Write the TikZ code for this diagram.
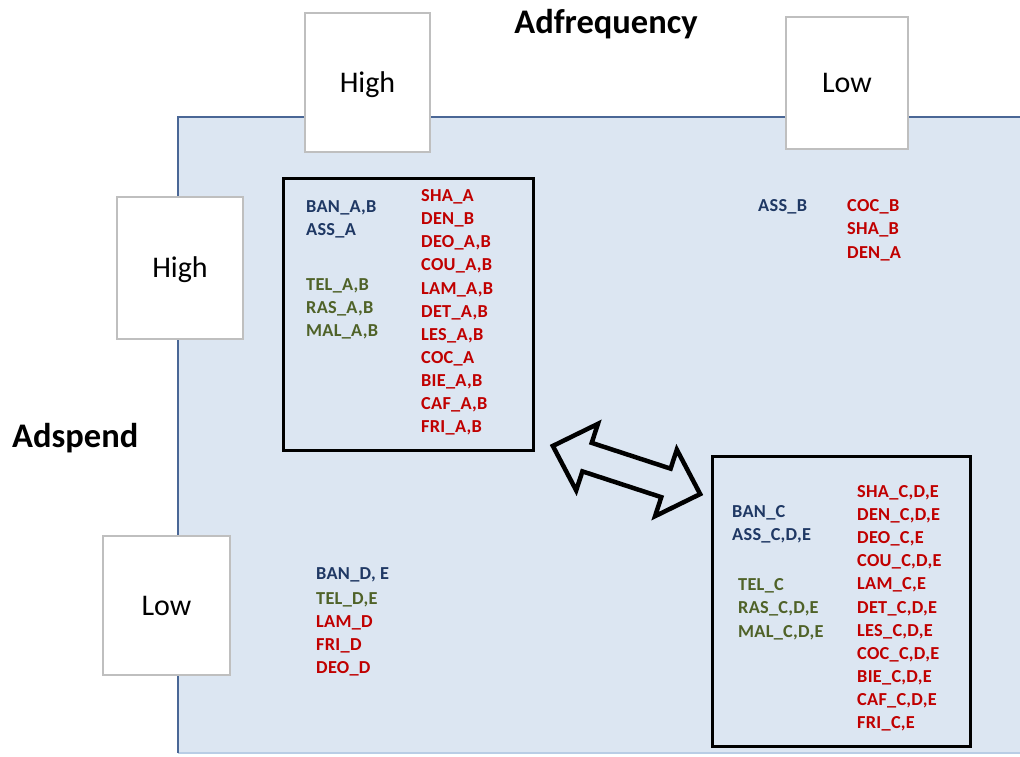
\documentclass[tikz,border=0pt]{standalone}
\usepackage{fontspec}
\setmainfont{Carlito}
\newfontfamily\listfont{Carlito}[LetterSpace=1.5]
\definecolor{panelfill}{HTML}{DCE6F2}
\definecolor{panelline}{HTML}{4A6796}
\definecolor{panelbottom}{HTML}{B9CDE5}
\definecolor{labelline}{HTML}{BFBFBF}
\definecolor{txtblue}{HTML}{1F3864}
\definecolor{txtgreen}{HTML}{4F6228}
\definecolor{txtred}{HTML}{C00000}

\begin{document}
\begin{tikzpicture}[x=1pt,y=-1pt,
  item/.style={anchor=base west, inner sep=0pt,
    font=\listfont\fontsize{18.3}{22}\selectfont\bfseries},
  blueitem/.style={item, text=txtblue},
  greenitem/.style={item, text=txtgreen},
  reditem/.style={item, text=txtred},
  levelbox/.style={draw=labelline, line width=1.2pt, fill=white,
    font=\fontsize{30}{35}\selectfont, text height=19.3pt, text depth=0pt,
    inner sep=0pt},
  axistitle/.style={inner sep=0pt, font=\fontsize{34.5}{40}\selectfont\bfseries},
  groupbox/.style={draw=black, line width=3pt}
]
\useasboundingbox (0,0) rectangle (1020,756);

% background panel
\fill[panelfill] (178,117) rectangle (1020,753);
\draw[panelbottom, line width=1.5pt] (178,753) -- (1020,753);
\draw[panelline, line width=2.5pt] (178,753) -- (178,117) -- (1020,117);

% axis titles
\node[axistitle, anchor=base] (freq) at (606,33) {Adfrequency};
\node[axistitle, anchor=base west] (spend) at (12,447) {Adspend};

% level labels
\node[levelbox, minimum width=125pt, minimum height=139pt] (fhigh) at (367.5,82.5) {High};
\node[levelbox, minimum width=122pt, minimum height=132pt] (flow) at (847,83) {Low};
\node[levelbox, minimum width=126pt, minimum height=142pt] (shigh) at (180,268) {High};
\node[levelbox, minimum width=127pt, minimum height=139pt] (slow) at (166.5,605.5) {Low};

% group boxes
\draw[groupbox] (283,178) rectangle (533,450);
\draw[groupbox] (712,456) rectangle (970,746);

% high spend / high frequency
\foreach \t [count=\i] in {{BAN\_A,B}, ASS\_A}
  \node[blueitem] (hhb\i) at (306,{212.6+23.1*(\i-1)}) {\t};
\foreach \t [count=\i] in {{TEL\_A,B}, {RAS\_A,B}, {MAL\_A,B}}
  \node[greenitem] (hhg\i) at (306,{290+23.1*(\i-1)}) {\t};
\foreach \t [count=\i] in {SHA\_A, DEN\_B, {DEO\_A,B}, {COU\_A,B}, {LAM\_A,B},
    {DET\_A,B}, {LES\_A,B}, COC\_A, {BIE\_A,B}, {CAF\_A,B}, {FRI\_A,B}}
  \node[reditem] (hhr\i) at (421,{201.6+23.1*(\i-1)}) {\t};

% high spend / low frequency
\node[blueitem] (hlb1) at (758,211.8) {ASS\_B};
\foreach \t [count=\i] in {COC\_B, SHA\_B, DEN\_A}
  \node[reditem] (hlr\i) at (847,{211.8+23.1*(\i-1)}) {\t};

% low spend / high frequency
\node[blueitem] (lhb1) at (316,579.2) {BAN\_D, E};
\node[greenitem] (lhg1) at (316,604.7) {TEL\_D,E};
\node[reditem] (lhr1) at (316,627.7) {LAM\_D};
\node[reditem] (lhr2) at (316,650.7) {FRI\_D};
\node[reditem] (lhr3) at (316,673.7) {DEO\_D};

% low spend / low frequency
\foreach \t [count=\i] in {BAN\_C, {ASS\_C,D,E}}
  \node[blueitem] (llb\i) at (732,{517.5+23.1*(\i-1)}) {\t};
\foreach \t [count=\i] in {TEL\_C, {RAS\_C,D,E}, {MAL\_C,D,E}}
  \node[greenitem] (llg\i) at (738,{590.8+23.1*(\i-1)}) {\t};
\foreach \t [count=\i] in {{SHA\_C,D,E}, {DEN\_C,D,E}, {DEO\_C,E}, {COU\_C,D,E},
    {LAM\_C,E}, {DET\_C,D,E}, {LES\_C,D,E}, {COC\_C,D,E}, {BIE\_C,D,E},
    {CAF\_C,D,E}, {FRI\_C,E}}
  \node[reditem] (llr\i) at (857,{497.5+23.1*(\i-1)}) {\t};

% double-headed block arrow between the two groups
\begin{scope}[shift={(626.5,470)}, rotate=-18.1]
  \filldraw[fill=panelfill, draw=black, line width=4.5pt, line join=miter]
    (-77.5,0) -- (-41.5,-35) -- (-41.5,-15) -- (41.5,-15) -- (41.5,-35)
    -- (77.5,0) -- (41.5,35) -- (41.5,15) -- (-41.5,15) -- (-41.5,35) -- cycle;
\end{scope}
\end{tikzpicture}
\end{document}
